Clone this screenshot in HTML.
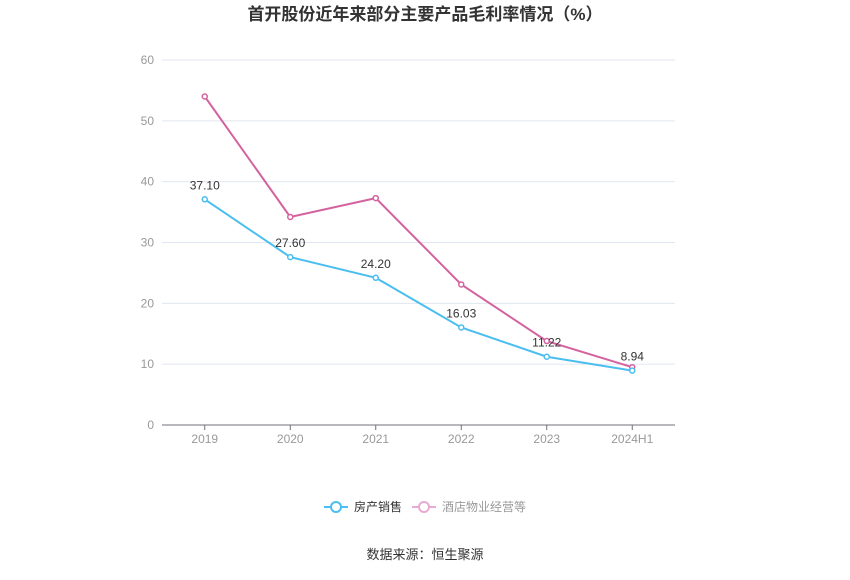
<!DOCTYPE html>
<html><head><meta charset="utf-8"><style>
body{margin:0;background:#fff;width:850px;height:575px;overflow:hidden;font-family:"Liberation Sans","Noto Sans CJK SC",sans-serif}
</style></head><body>
<svg width="850" height="575" xmlns="http://www.w3.org/2000/svg">
<text x="425" y="20" text-anchor="middle" font-size="17" font-weight="bold" fill="#333" font-family="Liberation Sans, Noto Sans CJK SC, sans-serif">首开股份近年来部分主要产品毛利率情况（%）</text>
<g id="grid"></g><g id="axes"></g><g id="series"></g>
<g font-family="Liberation Sans, Noto Sans CJK SC, sans-serif" font-size="12">
<g><line x1="324" y1="507" x2="348" y2="507" stroke="#4bbef0" stroke-width="2"/><circle cx="336" cy="507" r="5" fill="#fff" stroke="#4bbef0" stroke-width="2"/><text x="354" y="511" fill="#333">房产销售</text></g>
<g><line x1="412" y1="507" x2="436" y2="507" stroke="#e9a9d2" stroke-width="2"/><circle cx="424" cy="507" r="5" fill="#fff" stroke="#e9a9d2" stroke-width="2"/><text x="442" y="511" fill="#999">酒店物业经营等</text></g>
</g>
<text x="425" y="559" text-anchor="middle" font-size="13" fill="#333" font-family="Liberation Sans, Noto Sans CJK SC, sans-serif">数据来源：恒生聚源</text>
</svg>
<script>
const categories=["2019","2020","2021","2022","2023","2024H1"];
const housing=[37.10,27.60,24.20,16.03,11.22,8.94];
const hotel=[54.0,34.2,37.3,23.1,13.8,9.5];
const housingLabels=["37.10","27.60","24.20","16.03","11.22","8.94"];
const yTicks=[0,10,20,30,40,50,60];
const NS="http://www.w3.org/2000/svg";
const x0=162,x1=675,y0=425,y1=60;
const step=(x1-x0)/categories.length;
const xs=i=>x0+step*(i+0.5);
const ys=v=>y0-(v/60)*(y0-y1);
function mk(t,a,p){const e=document.createElementNS(NS,t);for(const k in a)e.setAttribute(k,a[k]);p.appendChild(e);return e;}
const grid=document.getElementById('grid'),axes=document.getElementById('axes'),ser=document.getElementById('series');
yTicks.forEach(v=>{
 if(v>0){const l=mk('line',{x1:x0,x2:x1,y1:ys(v),y2:ys(v),stroke:'#e0e6f1'},grid);
 
 }
 const t=mk('text',{x:154,y:ys(v)+4,'text-anchor':'end','font-size':12,fill:'#999'},axes);t.textContent=v;
 
 
});
const ax=mk('line',{x1:x0,x2:x1,y1:y0,y2:y0,stroke:'#6e7079'},axes);


categories.forEach((c,i)=>{
 mk('line',{x1:xs(i),x2:xs(i),y1:y0,y2:y0+5,stroke:'#6e7079'},axes);
 const t=mk('text',{x:xs(i),y:y0+18,'text-anchor':'middle','font-size':12,fill:'#999'},axes);t.textContent=c;
 
 
});
function draw(vals,color,name){
 const p=mk('polyline',{points:vals.map((v,i)=>xs(i)+','+ys(v)).join(' '),fill:'none',stroke:color,'stroke-width':2},ser);
 
 
 vals.forEach((v,i)=>{const c=mk('circle',{cx:xs(i),cy:ys(v),r:2.5,fill:'#fff',stroke:color,'stroke-width':1.5},ser);
 
 });
}
draw(hotel,'#d4629f','hotel');
draw(housing,'#4bbef0','housing');
housing.forEach((v,i)=>{const t=mk('text',{x:xs(i),y:ys(v)-10,'text-anchor':'middle','font-size':12,fill:'#333'},ser);t.textContent=housingLabels[i];
 
 });
</script>
</body></html>
